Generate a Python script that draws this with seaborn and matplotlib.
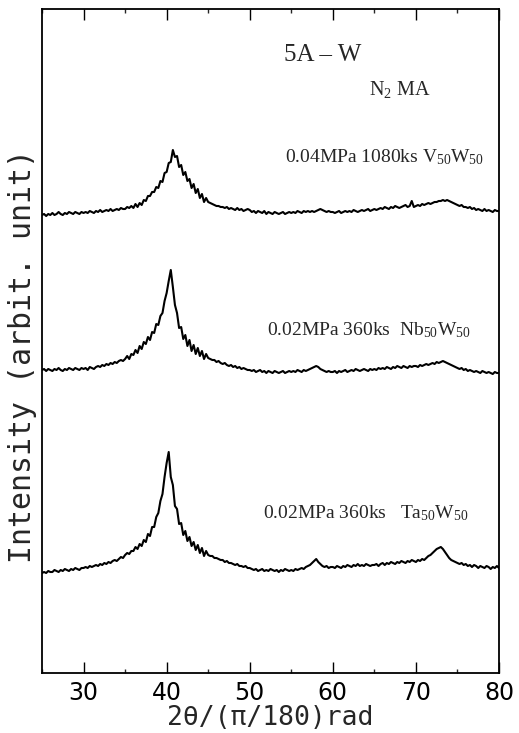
import numpy as np
import pandas as pd
import matplotlib
matplotlib.use("Agg")
import matplotlib.pyplot as plt
from matplotlib.ticker import MultipleLocator
import seaborn as sns

# 2-theta grid (degrees), 0.25 deg step
two_theta = np.arange(25.0, 80.0001, 0.25)

# Intensities (arbitrary units), one row of values per 5 degrees
v50w50 = [
    98, 99, 97, 99, 98, 100, 98, 99, 101, 99, 98, 100, 99, 101, 100, 99, 101, 100, 99, 101,
    100, 101, 100, 102, 101, 100, 102, 101, 103, 101, 102, 103, 102, 104, 102, 103, 104, 103, 105, 104,
    104, 106, 105, 107, 105, 109, 106, 110, 108, 113, 112, 117, 117, 121, 121, 126, 125, 132, 131, 140,
    141, 150, 151, 163, 156, 157, 146, 148, 138, 141, 132, 134, 125, 129, 120, 124, 115, 119, 111, 115,
    111, 110, 109, 108, 107, 107, 106, 106, 105, 106, 104, 105, 104, 103, 105, 103, 104, 102, 103, 104,
    103, 101, 102, 100, 102, 101, 100, 102, 99, 101, 100, 99, 101, 100, 99, 100, 101, 99, 100, 101,
    100, 101, 100, 102, 101, 100, 102, 101, 102, 101, 102, 101, 102, 103, 104, 103, 102, 101, 102, 101,
    101, 100, 101, 102, 100, 101, 102, 101, 102, 101, 103, 102, 101, 102, 103, 102, 103, 104, 102, 103,
    104, 103, 104, 105, 104, 106, 105, 104, 106, 105, 107, 106, 105, 106, 107, 108, 106, 107, 112, 106,
    107, 108, 107, 109, 108, 109, 110, 109, 110, 111, 111, 112, 112, 113, 112, 113, 112, 111, 110, 109,
    108, 107, 108, 106, 106, 105, 106, 104, 105, 103, 104, 103, 102, 104, 102, 103, 102, 101, 103, 102,
    102,
]

nb50w50 = [
    103, 104, 102, 104, 103, 102, 104, 103, 105, 103, 102, 104, 103, 105, 104, 103, 105, 104, 103, 105,
    104, 105, 103, 106, 105, 104, 106, 107, 106, 108, 107, 109, 108, 110, 109, 111, 110, 112, 113, 112,
    114, 117, 114, 119, 118, 123, 120, 127, 124, 131, 129, 136, 133, 141, 140, 149, 148, 157, 160, 172,
    180, 192, 203, 186, 168, 160, 145, 146, 134, 138, 127, 133, 122, 128, 119, 125, 117, 122, 114, 119,
    115, 114, 113, 113, 111, 112, 110, 109, 110, 108, 107, 108, 106, 107, 105, 106, 104, 105, 104, 103,
    103, 102, 103, 101, 102, 103, 101, 102, 100, 102, 101, 100, 102, 101, 100, 101, 102, 100, 101, 102,
    101, 102, 101, 103, 102, 101, 103, 102, 103, 104, 105, 106, 107, 106, 104, 103, 102, 101, 102, 101,
    101, 102, 100, 102, 101, 102, 103, 101, 102, 103, 102, 104, 103, 102, 103, 104, 103, 102, 104, 103,
    104, 103, 105, 104, 105, 104, 106, 105, 104, 106, 105, 107, 106, 105, 107, 106, 105, 107, 106, 107,
    107, 106, 108, 107, 108, 109, 108, 109, 110, 109, 111, 110, 111, 112, 111, 110, 109, 108, 107, 106,
    105, 104, 105, 103, 104, 102, 103, 102, 101, 102, 101, 100, 102, 101, 100, 101, 100, 99, 101, 100,
    100,
]

ta50w50 = [
    100, 101, 100, 102, 101, 101, 103, 102, 101, 103, 102, 104, 103, 102, 104, 103, 105, 104, 103, 105,
    105, 106, 105, 107, 106, 107, 108, 107, 109, 108, 110, 109, 111, 110, 112, 113, 112, 114, 116, 115,
    118, 120, 119, 122, 122, 126, 124, 129, 127, 133, 131, 139, 137, 146, 146, 156, 160, 172, 179, 196,
    210, 221, 196, 188, 167, 164, 149, 150, 138, 142, 132, 136, 127, 131, 123, 128, 120, 125, 117, 122,
    118, 117, 117, 115, 115, 114, 113, 113, 111, 112, 110, 110, 109, 108, 109, 107, 107, 106, 107, 105,
    105, 104, 103, 104, 102, 103, 104, 102, 103, 102, 104, 103, 102, 103, 101, 103, 102, 104, 103, 102,
    103, 102, 104, 103, 104, 105, 104, 106, 107, 108, 110, 112, 114, 111, 109, 107, 106, 107, 105, 106,
    106, 105, 107, 106, 105, 107, 106, 108, 107, 106, 108, 107, 109, 107, 108, 107, 109, 108, 107, 108,
    108, 109, 107, 109, 110, 108, 110, 109, 111, 110, 109, 111, 110, 112, 111, 110, 112, 111, 113, 112,
    111, 113, 112, 114, 113, 115, 117, 118, 120, 122, 124, 125, 126, 124, 121, 118, 115, 113, 112, 111,
    110, 109, 110, 108, 109, 107, 108, 106, 108, 107, 105, 107, 106, 105, 107, 106, 104, 106, 105, 107,
    105,
]

samples = ["V50W50", "Nb50W50", "Ta50W50"]
labels = [
    r"0.04MPa 1080ks V$_{50}$W$_{50}$",
    r"0.02MPa 360ks  Nb$_{50}$W$_{50}$",
    r"0.02MPa 360ks   Ta$_{50}$W$_{50}$",
]
series = [v50w50, nb50w50, ta50w50]

# vertical stacking of the patterns
offsets = [360, 200, 0]

frames = []
for name, vals, off in zip(samples, series, offsets):
    frames.append(pd.DataFrame({
        "two_theta": two_theta,
        "intensity": np.asarray(vals, dtype=float) + off,
        "sample": name,
    }))
df = pd.concat(frames, ignore_index=True)

sns.set_style("white")
plt.rcParams["mathtext.fontset"] = "custom"
plt.rcParams["mathtext.rm"] = "Liberation Serif"
plt.rcParams["mathtext.it"] = "Liberation Serif:italic"

fig = plt.figure(figsize=(5.19, 7.33), dpi=100)
ax = fig.add_axes([42 / 519, 60 / 733, 457 / 519, 664 / 733])

for name in samples:
    sub = df[df["sample"] == name]
    sns.lineplot(data=sub, x="two_theta", y="intensity", color="black",
                 linewidth=1.5, ax=ax, legend=False)

ax.set_xlim(25, 80)
ax.set_ylim(0, 664)

ax.xaxis.set_major_locator(MultipleLocator(10))
ax.xaxis.set_minor_locator(MultipleLocator(5))
ax.tick_params(axis="x", which="major", direction="in", top=True, bottom=True,
               length=8, width=1.0, pad=6, labelsize=17, colors="black")
ax.tick_params(axis="x", which="minor", direction="in", top=True, bottom=True,
               length=3, width=1.0)
ax.tick_params(axis="y", left=False, right=False, labelleft=False)
for lbl in ax.get_xticklabels():
    lbl.set_family("DejaVu Sans")

for sp in ax.spines.values():
    sp.set_visible(True)
    sp.set_color("black")
    sp.set_linewidth(1.3)

ax.set_xlabel("2θ/(π/180)rad", family="DejaVu Sans Mono", fontsize=19, labelpad=0)
ax.set_ylabel("Intensity (arbit. unit)", family="DejaVu Sans Mono", fontsize=21.5)
ax.yaxis.set_label_coords(-0.012, 0.477)

serif = "Liberation Serif"
ax.text(58.8, 618, "5A – W", family=serif, fontsize=18, ha="center", va="center")
ax.text(68.0, 583, r"N$_{2}$ MA", family=serif, fontsize=14.5, ha="center", va="center")
label_pos = [(54.2, 516), (52.1, 343), (51.6, 160)]
for (x, y), txt in zip(label_pos, labels):
    ax.text(x, y, txt, family=serif, fontsize=14, ha="left", va="center")

fig.savefig("out.png", dpi=100)
